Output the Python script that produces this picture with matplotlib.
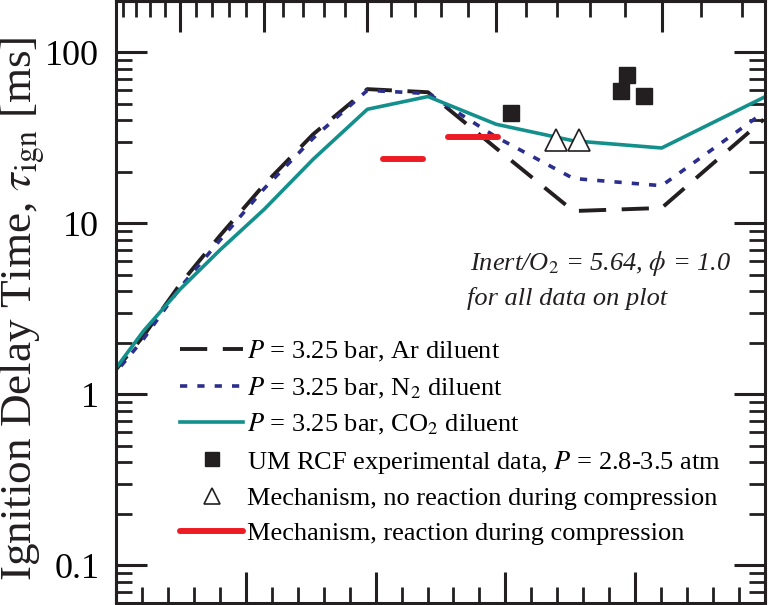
import numpy as np
import matplotlib
matplotlib.use('Agg')
import matplotlib.pyplot as plt
from matplotlib.lines import Line2D
from matplotlib.ticker import MultipleLocator, FixedLocator, LogLocator, NullFormatter

plt.rcParams['font.family'] = ['Liberation Serif', 'DejaVu Serif']
plt.rcParams['mathtext.fontset'] = 'stix'

# model temperatures [K] and ignition delay times [ms]
T_model = np.array([1200, 1150, 1100, 1050, 1000, 950, 900, 850, 800, 750, 700, 650])
tau_ar = [1.26, 2.19, 4.40, 8.5, 16.9, 33.2, 61.0, 58.5, 27.5, 11.8, 12.3, 40.5]
tau_n2 = [1.22, 2.10, 4.20, 8.0, 16.0, 31.5, 60.0, 57.5, 32.0, 18.3, 16.6, 44.5]
tau_co2 = [1.27, 2.34, 4.11, 7.0, 12.1, 23.7, 46.5, 55.2, 38.0, 30.4, 27.6, 54.5]

# UM RCF experiments (x = 1000/T)
exp_x = [1.266, 1.391, 1.385, 1.409]
exp_tau = [44.1, 74.0, 59.1, 55.7]

# mechanism, no reaction during compression
noreac_x = [1.315, 1.339]
noreac_tau = [30.6, 30.6]

# mechanism, reaction during compression (horizontal bars)
reac_x0 = [1.128, 1.198]
reac_x1 = [1.171, 1.252]
reac_tau = [23.7, 32.2]

top_major_T = [700, 800, 900, 1000, 1100]
top_minor_T = [660, 680, 720, 740, 760, 780, 820, 840, 860, 880, 920, 940, 960, 980,
               1020, 1040, 1060, 1080, 1120, 1140, 1160, 1180]

blk = '#231f20'
teal = '#13908c'
navy = '#2b2e8c'
red = '#ed1c24'

fig = plt.figure(figsize=(7.68, 6.05), dpi=100)
ax = fig.add_axes([116/768, 2/605, 649/768, 602/605])

x_model = 1000.0 / T_model
ax.plot(x_model, tau_ar, color=blk, lw=2.8, ls=(0, (7, 4)), label=r'$P$ = 3.25 bar, Ar diluent')
ax.plot(x_model, tau_n2, color=navy, lw=2.6, ls=(0, (2, 2.8)), label=r'$P$ = 3.25 bar, N$_2$ diluent')
ax.plot(x_model, tau_co2, color=teal, lw=2.6, label=r'$P$ = 3.25 bar, CO$_2$ diluent')
ax.plot(exp_x, exp_tau, 's', color=blk, ms=11, zorder=5)
ax.plot(noreac_x, noreac_tau, '^', mfc='white', mec=blk, ms=16, mew=1.2, zorder=5)
for x0, x1, t in zip(reac_x0, reac_x1, reac_tau):
    ax.plot([x0, x1], [t, t], color=red, lw=4.3, solid_capstyle='round', zorder=4)

ax.set_yscale('log')
ax.set_xlim(0.84, 1.54)
ax.set_ylim(0.06, 200)

ax.xaxis.set_major_locator(MultipleLocator(0.14))
ax.xaxis.set_minor_locator(MultipleLocator(0.028))
ax.set_yticks([0.1, 1, 10, 100], ['0.1', '1', '10', '100'])
ax.yaxis.set_minor_locator(LogLocator(base=10, subs=np.arange(2, 10)))
ax.yaxis.set_minor_formatter(NullFormatter())

ax.tick_params(axis='x', which='both', direction='in', top=False, bottom=True, labelbottom=False)
ax.tick_params(axis='y', which='both', direction='in', left=True, right=True, labelsize=26, pad=12)
ax.tick_params(which='major', length=22, width=2.2, color=blk)
ax.tick_params(which='minor', length=11.5, width=2.0, color=blk)
for s in ax.spines.values():
    s.set_linewidth(2.2)
    s.set_color(blk)


def inv(v):
    v = np.asarray(v, dtype=float)
    with np.errstate(divide='ignore'):
        return 1000.0 / v


secax = ax.secondary_xaxis('top', functions=(inv, inv))
secax.xaxis.set_major_locator(FixedLocator(top_major_T))
secax.xaxis.set_minor_locator(FixedLocator(top_minor_T))
secax.xaxis.set_major_formatter(NullFormatter())
secax.xaxis.set_minor_formatter(NullFormatter())
secax.tick_params(which='both', direction='in', color=blk)
secax.tick_params(which='major', length=22, width=2.2)
secax.tick_params(which='minor', length=11.5, width=2.0)
secax.spines['top'].set_linewidth(2.2)

fig.text(22/768, 1 - 37/605, r'Ignition Delay Time, $\tau_{\mathrm{ign}}$ [ms]',
         rotation=90, ha='center', va='top', fontsize=32.5, color=blk)

ax.text(0.545, 0.553, r'Inert/O$_2$ = 5.64, $\phi$ = 1.0', transform=ax.transAxes,
        fontsize=19, style='italic', ha='left', va='baseline', color=blk)
ax.text(0.541, 0.495, 'for all data on plot', transform=ax.transAxes,
        fontsize=19, style='italic', ha='left', va='baseline', color=blk)

h_lines = ax.get_lines()[:3]
h_exp = Line2D([], [], ls='none', marker='s', color=blk, ms=10)
h_noreac = Line2D([], [], ls='none', marker='^', mfc='white', mec=blk, ms=12, mew=1.2)
h_reac = Line2D([], [], color=red, lw=4.3, solid_capstyle='round')
handles = list(h_lines) + [h_exp, h_noreac, h_reac]
labels = [h.get_label() for h in h_lines] + [
    r'UM RCF experimental data, $P$ = 2.8-3.5 atm',
    'Mechanism, no reaction during compression',
    'Mechanism, reaction during compression']
ax.legend(handles, labels, loc='upper left', bbox_to_anchor=(0.0986, 0.4385),
          frameon=False, fontsize=19, handlelength=2.4, handletextpad=0.15,
          labelspacing=0.43, borderpad=0, borderaxespad=0)

fig.savefig('out.png', dpi=100)
